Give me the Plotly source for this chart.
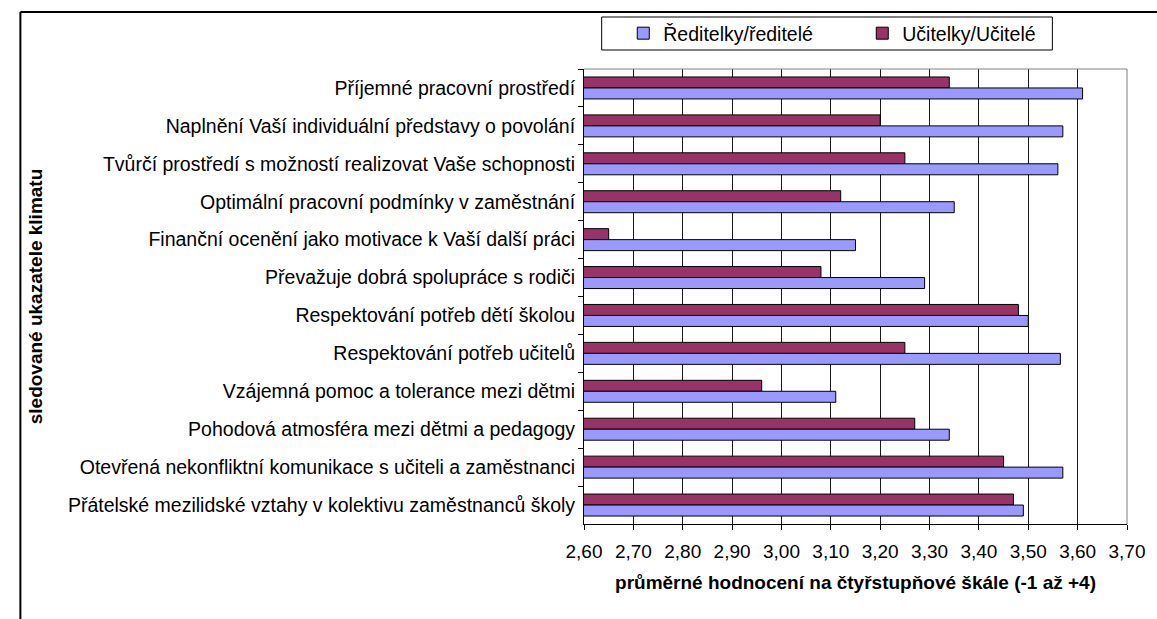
import plotly.graph_objects as go

categories = [
    "Příjemné pracovní prostředí",
    "Naplnění Vaší individuální představy o povolání",
    "Tvůrčí prostředí s možností realizovat Vaše schopnosti",
    "Optimální pracovní podmínky v zaměstnání",
    "Finanční ocenění jako motivace k Vaší další práci",
    "Převažuje dobrá spolupráce s rodiči",
    "Respektování potřeb dětí školou",
    "Respektování potřeb učitelů",
    "Vzájemná pomoc a tolerance mezi dětmi",
    "Pohodová atmosféra mezi dětmi a pedagogy",
    "Otevřená nekonfliktní komunikace s učiteli a zaměstnanci",
    "Přátelské mezilidské vztahy v kolektivu zaměstnanců školy",
]
reditele = [3.61, 3.57, 3.56, 3.35, 3.15, 3.29, 3.50, 3.565, 3.11, 3.34, 3.57, 3.49]
ucitele = [3.34, 3.20, 3.25, 3.12, 2.65, 3.08, 3.48, 3.25, 2.96, 3.27, 3.45, 3.47]
tick_vals = [2.6, 2.7, 2.8, 2.9, 3.0, 3.1, 3.2, 3.3, 3.4, 3.5, 3.6, 3.7]
tick_text = ["2,60", "2,70", "2,80", "2,90", "3,00", "3,10", "3,20", "3,30", "3,40", "3,50", "3,60", "3,70"]

W, H = 1157, 619
L, R, T, B = 584, 20, 69, 95
PW, PH = W - L - R, H - T - B

def px(x):
    return (x - L) / PW

def py(y):
    return (H - B - y) / PH

FONT = "Liberation Sans, Arial, sans-serif"

fig = go.Figure()
fig.add_trace(go.Bar(
    y=categories, x=ucitele, orientation="h", name="Učitelky/Učitelé",
    marker=dict(color="#993366", line=dict(color="#000000", width=1)),
))
fig.add_trace(go.Bar(
    y=categories, x=reditele, orientation="h", name="Ředitelky/ředitelé",
    marker=dict(color="#9999FF", line=dict(color="#000000", width=1)),
))

shapes = [
    # plot-area gray frame (top/right)
    dict(type="line", xref="paper", yref="paper", x0=0, x1=1, y0=1, y1=1,
         line=dict(color="#808080", width=1)),
    dict(type="line", xref="paper", yref="paper", x0=1, x1=1, y0=0, y1=1,
         line=dict(color="#808080", width=1)),
    # outer chart frame (top and left visible)
    dict(type="line", xref="paper", yref="paper", x0=px(10), x1=px(1170), y0=py(12), y1=py(12),
         line=dict(color="#000000", width=2)),
    dict(type="line", xref="paper", yref="paper", x0=px(10), x1=px(10), y0=py(12), y1=py(640),
         line=dict(color="#000000", width=2)),
    # legend box
    dict(type="rect", xref="paper", yref="paper", x0=px(602), x1=px(1061), y0=py(50), y1=py(17),
         line=dict(color="#000000", width=1), fillcolor="rgba(0,0,0,0)"),
]

fig.update_layout(
    width=W, height=H,
    margin=dict(l=L, r=R, t=T, b=B, pad=0),
    paper_bgcolor="white", plot_bgcolor="white",
    barmode="group", bargap=0.42, bargroupgap=0,
    font=dict(family=FONT, size=19, color="#000000"),
    shapes=shapes,
    showlegend=True,
    legend=dict(
        orientation="h", traceorder="reversed",
        x=px(624), xanchor="left", y=py(33.5), yanchor="middle",
        bgcolor="rgba(0,0,0,0)", borderwidth=0,
        entrywidth=194, entrywidthmode="pixels",
        font=dict(family=FONT, size=19.5, color="#000000"),
    ),
    xaxis=dict(
        range=[2.6, 3.7], tickvals=tick_vals, ticktext=tick_text,
        showgrid=True, gridcolor="#1a1a1a", gridwidth=1,
        showline=True, linecolor="#000000", linewidth=1,
        ticks="outside", ticklen=5, tickcolor="#000000",
        zeroline=False,
        title=dict(text="<b>průměrné hodnocení na čtyřstupňové škále (-1 až +4)</b>",
                   font=dict(family=FONT, size=19), standoff=14),
        tickfont=dict(family=FONT, size=19),
        ticklabelstandoff=5,
    ),
    yaxis=dict(
        autorange="reversed", type="category",
        showline=True, linecolor="#000000", linewidth=1,
        ticks="outside", ticklen=5, tickcolor="#000000", tickson="boundaries",
        showgrid=False,
        title=dict(text="<b>sledované ukazatele klimatu</b>",
                   font=dict(family=FONT, size=19), standoff=20),
        tickfont=dict(family=FONT, size=19.5),
        ticklabelstandoff=4,
    ),
)

fig.write_html("out.html", config={"displayModeBar": False},
               post_script="document.body.style.margin='0';document.body.style.overflow='hidden';")
